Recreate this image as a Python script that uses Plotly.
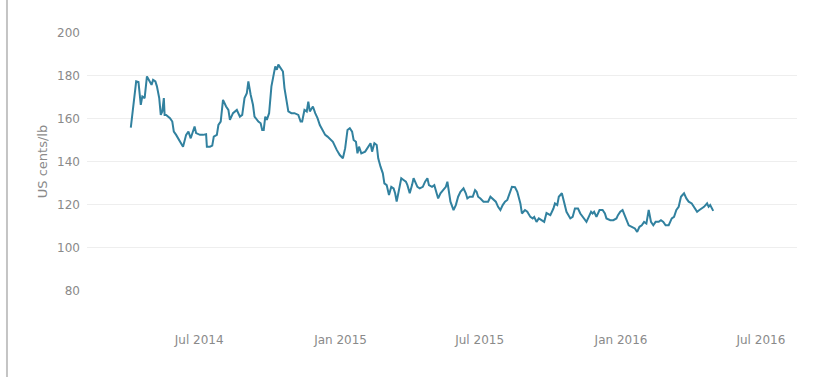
import plotly.graph_objects as go

dates = [
"2014-04-03","2014-04-06","2014-04-10","2014-04-13","2014-04-16","2014-04-18","2014-04-21","2014-04-24","2014-04-28","2014-04-30",
"2014-05-02","2014-05-05","2014-05-07","2014-05-10","2014-05-12","2014-05-14","2014-05-16","2014-05-17","2014-05-19","2014-05-24",
"2014-05-27","2014-05-29","2014-06-01","2014-06-06","2014-06-10","2014-06-14","2014-06-17","2014-06-20","2014-06-22","2014-06-25",
"2014-06-27","2014-07-02","2014-07-06","2014-07-10","2014-07-11","2014-07-15","2014-07-18","2014-07-20","2014-07-24","2014-07-26",
"2014-07-29","2014-08-01","2014-08-05","2014-08-08","2014-08-10","2014-08-14","2014-08-19","2014-08-23","2014-08-26","2014-08-29",
"2014-09-01","2014-09-03","2014-09-06","2014-09-09","2014-09-11","2014-09-16","2014-09-19","2014-09-21","2014-09-23","2014-09-25",
"2014-09-27","2014-09-30","2014-10-03","2014-10-06","2014-10-08","2014-10-10","2014-10-12","2014-10-15","2014-10-18","2014-10-20",
"2014-10-23","2014-10-25","2014-10-29","2014-11-02","2014-11-07","2014-11-10","2014-11-12","2014-11-15","2014-11-18","2014-11-20",
"2014-11-22","2014-11-26","2014-11-29","2014-12-02","2014-12-05","2014-12-09","2014-12-12","2014-12-15","2014-12-18","2014-12-22",
"2014-12-27","2014-12-31","2015-01-04","2015-01-07","2015-01-10","2015-01-13","2015-01-16","2015-01-18","2015-01-21","2015-01-23",
"2015-01-25","2015-01-28","2015-02-02","2015-02-06","2015-02-09","2015-02-11","2015-02-14","2015-02-17","2015-02-19","2015-02-22",
"2015-02-25","2015-02-27","2015-03-02","2015-03-05","2015-03-08","2015-03-11","2015-03-13","2015-03-15","2015-03-18","2015-03-21",
"2015-03-24","2015-03-27","2015-03-29","2015-04-01","2015-04-04","2015-04-06","2015-04-09","2015-04-11","2015-04-14","2015-04-18",
"2015-04-21","2015-04-24","2015-04-26","2015-04-30","2015-05-03","2015-05-05","2015-05-08","2015-05-11","2015-05-15","2015-05-18",
"2015-05-20","2015-05-22","2015-05-24","2015-05-28","2015-05-31","2015-06-03","2015-06-06","2015-06-10","2015-06-13","2015-06-15",
"2015-06-18","2015-06-22","2015-06-25","2015-06-27","2015-06-29","2015-07-02","2015-07-06","2015-07-09","2015-07-12","2015-07-15",
"2015-07-19","2015-07-22","2015-07-25","2015-07-28","2015-07-31","2015-08-03","2015-08-06","2015-08-09","2015-08-12","2015-08-16",
"2015-08-19","2015-08-23","2015-08-25","2015-08-29","2015-09-01","2015-09-05","2015-09-08","2015-09-10","2015-09-13","2015-09-16",
"2015-09-20","2015-09-23","2015-09-26","2015-10-01","2015-10-05","2015-10-07","2015-10-10","2015-10-12","2015-10-16","2015-10-19",
"2015-10-22","2015-10-27","2015-10-30","2015-11-02","2015-11-06","2015-11-09","2015-11-12","2015-11-15","2015-11-17","2015-11-20",
"2015-11-23","2015-11-25","2015-11-27","2015-11-30","2015-12-04","2015-12-08","2015-12-11","2015-12-13","2015-12-18","2015-12-22",
"2015-12-26","2015-12-28","2015-12-31","2016-01-03","2016-01-05","2016-01-08","2016-01-11","2016-01-15","2016-01-19","2016-01-22",
"2016-01-25","2016-01-28","2016-01-31","2016-02-03","2016-02-04","2016-02-06","2016-02-09","2016-02-12","2016-02-15","2016-02-19",
"2016-02-22","2016-02-25","2016-02-28","2016-03-03","2016-03-05","2016-03-07","2016-03-10","2016-03-13","2016-03-16","2016-03-19",
"2016-03-21","2016-03-23","2016-03-26","2016-03-29","2016-04-02","2016-04-05","2016-04-09","2016-04-12","2016-04-15","2016-04-18",
"2016-04-22","2016-04-24","2016-04-26","2016-04-28","2016-04-30",
]

prices = [
155.8,164.0,177.3,177.0,166.4,170.3,169.5,179.6,177.3,175.7,
178.0,177.3,175.0,169.5,161.7,163.3,169.5,161.7,161.7,160.2,
158.6,153.9,152.4,149.2,146.9,152.4,153.9,150.8,153.2,156.3,
153.2,152.4,152.4,152.7,146.9,146.9,147.4,151.6,152.4,157.0,
158.6,168.7,165.6,164.0,159.4,162.5,164.0,160.9,161.7,169.5,
171.8,177.3,171.1,166.4,160.9,158.6,157.8,154.7,154.7,160.9,
159.4,162.5,175.0,180.4,184.3,182.7,185.1,183.5,181.9,174.2,
166.4,163.3,162.5,162.5,161.7,158.6,158.6,164.0,163.3,167.9,
163.3,165.6,162.5,160.2,157.0,154.7,152.4,151.6,150.6,149.2,
145.4,143.0,141.5,146.2,154.7,155.5,153.9,150.0,149.2,143.8,
146.9,143.8,144.6,146.9,148.5,144.6,148.5,147.7,141.5,137.6,
134.5,129.8,129.0,124.4,128.2,127.5,125.2,121.3,126.7,132.2,
131.4,130.6,129.0,125.2,129.0,132.2,129.8,128.2,127.5,128.2,
130.6,132.2,129.0,128.2,129.0,126.7,122.8,125.2,126.7,128.2,
130.6,125.9,121.3,117.4,119.7,123.6,125.9,127.5,125.2,122.8,
123.6,123.6,126.7,125.9,123.6,122.8,121.3,121.3,121.3,123.6,
122.1,121.3,118.9,117.4,119.7,121.3,122.1,125.2,128.2,128.0,
125.9,120.5,115.8,117.4,116.6,114.2,113.5,114.2,111.9,113.5,
112.7,111.9,116.0,115.0,118.1,120.5,119.7,123.6,125.2,120.5,
116.6,113.5,114.2,118.1,118.1,115.8,114.2,112.7,111.9,114.2,
116.6,115.8,116.6,114.2,117.4,117.4,115.8,113.5,112.7,112.7,
113.5,115.0,116.6,117.4,115.8,113.5,110.3,109.6,108.8,107.2,
109.6,110.3,111.9,111.1,113.5,117.4,111.9,110.3,111.9,111.9,
112.7,111.9,110.3,110.3,111.9,113.5,114.2,117.4,118.9,123.6,
124.4,125.2,122.8,121.3,120.5,118.9,116.6,117.4,118.1,118.9,
120.5,118.9,119.7,118.1,117.0,
]

y_ticks = [80, 100, 120, 140, 160, 180, 200]
y_title = "US cents/lb"

fig = go.Figure()
fig.add_trace(go.Scatter(
    x=dates, y=prices, mode="lines",
    line=dict(color="#31819f", width=2),
    showlegend=False,
))

fig.update_layout(
    width=816, height=377,
    margin=dict(l=87, r=19, t=32, b=86),
    paper_bgcolor="white", plot_bgcolor="white",
    font=dict(family="DejaVu Sans, Verdana, sans-serif", color="#8a8a8a", size=12),
    xaxis=dict(
        type="date",
        range=["2014-02-05", "2016-08-17"],
        tick0="2014-07-01", dtick="M6", tickformat="%b %Y",
        showgrid=False, zeroline=False, showline=False,
        ticks="", ticklabelstandoff=40,
        tickfont=dict(size=12, color="#8a8a8a"),
    ),
    yaxis=dict(
        range=[79.7, 200.3],
        tickvals=y_ticks,
        showgrid=True, gridcolor="#eeeeee", gridwidth=1,
        zeroline=False, showline=False, ticks="",
        ticklabelstandoff=6,
        tickfont=dict(size=12, color="#8a8a8a"),
        title=dict(text=y_title, font=dict(size=13, color="#8a8a8a"), standoff=6),
    ),
    shapes=[dict(
        type="line", xref="paper", yref="paper",
        x0=-0.1127, x1=-0.1127, y0=-0.4, y1=1.2,
        line=dict(color="#c4c4c4", width=2),
    )],
)

fig.write_html("out.html", config={"displayModeBar": False},
               post_script="document.body.style.margin='0';")
